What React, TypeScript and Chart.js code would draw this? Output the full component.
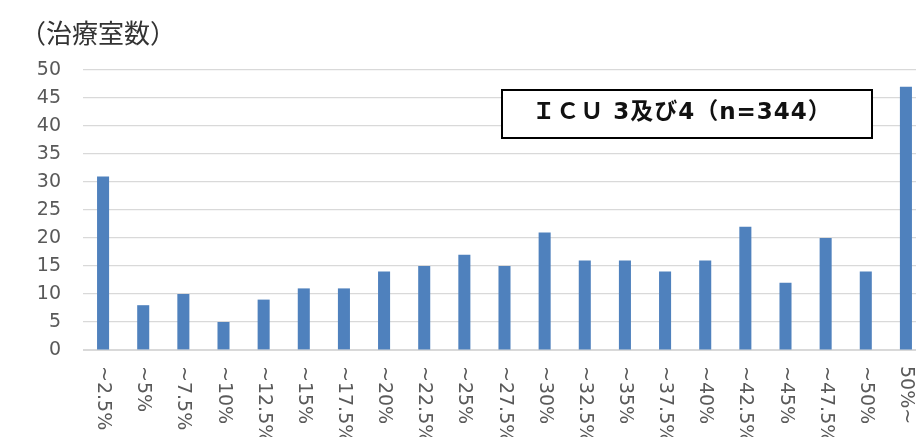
import React, { useEffect, useRef } from "react";
import { Chart, registerables } from "chart.js";

Chart.register(...registerables);

const categories = [
  "~2.5%", "~5%", "~7.5%", "~10%", "~12.5%", "~15%", "~17.5%", "~20%",
  "~22.5%", "~25%", "~27.5%", "~30%", "~32.5%", "~35%", "~37.5%", "~40%",
  "~42.5%", "~45%", "~47.5%", "~50%", "50%~",
];
const counts = [31, 8, 10, 5, 9, 11, 11, 14, 15, 17, 15, 21, 16, 16, 14, 16, 22, 12, 20, 14, 47];
const yMin = 0;
const yMax = 50;
const yStep = 5;
const yAxisTitle = "（治療室数）";
const boxLabel = "ＩＣＵ 3及び4（n=344）";

const LATIN = '"DejaVu Sans", "Noto Sans CJK JP", sans-serif';
const CJK = '"Noto Sans CJK JP", "Noto Sans", sans-serif';
const MIXED = '"DejaVu Sans", "Noto Sans CJK JP", sans-serif';

export default function App() {
  const ref = useRef<HTMLCanvasElement | null>(null);

  useEffect(() => {
    const canvas = ref.current;
    if (!canvas) return;

    const overlay = {
      id: "overlay",
      afterDraw(chart: any) {
        const ctx = chart.ctx;
        const xs = chart.scales.x;
        ctx.save();
        // rotated category labels (reading top to bottom)
        ctx.font = `19px ${LATIN}`;
        ctx.fillStyle = "#595959";
        categories.forEach((c, i) => {
          const x = xs.getPixelForValue(i);
          ctx.save();
          ctx.translate(x, xs.top + 16);
          ctx.rotate(Math.PI / 2);
          ctx.textAlign = "left";
          ctx.textBaseline = "middle";
          ctx.fillText(c, 0, 0);
          ctx.restore();
        });
        // axis title
        ctx.font = `26px ${CJK}`;
        ctx.fillStyle = "#333333";
        ctx.textAlign = "left";
        ctx.textBaseline = "middle";
        ctx.fillText(yAxisTitle, 20, 33);
        // annotation box
        ctx.fillStyle = "#ffffff";
        ctx.fillRect(502, 90, 370, 48);
        ctx.strokeStyle = "#000000";
        ctx.lineWidth = 2;
        ctx.strokeRect(502, 90, 370, 48);
        ctx.font = `bold 23px ${MIXED}`;
        (ctx as any).letterSpacing = "1px";
        ctx.fillStyle = "#111111";
        ctx.textAlign = "center";
        ctx.textBaseline = "middle";
        ctx.fillText(boxLabel, 682, 113);
        (ctx as any).letterSpacing = "0px";
        ctx.restore();
      },
    };

    const chart = new Chart(canvas, {
      type: "bar",
      data: {
        labels: categories,
        datasets: [
          {
            data: counts,
            backgroundColor: "#4F81BD",
            borderWidth: 0,
            barPercentage: 0.3,
            categoryPercentage: 1,
          },
        ],
      },
      options: {
        responsive: false,
        animation: false,
        layout: { padding: { top: 70, left: 0, right: 0, bottom: 0 } },
        plugins: {
          legend: { display: false },
          tooltip: { enabled: false },
        },
        scales: {
          x: {
            grid: { display: false },
            border: { color: "#d9d9d9", width: 1 },
            ticks: { display: false },
            afterFit(scale: any) {
              scale.height = 87;
            },
          },
          y: {
            min: yMin,
            max: yMax,
            ticks: {
              stepSize: yStep,
              color: "#595959",
              font: { family: LATIN, size: 19 },
              padding: 22,
            },
            grid: { color: "#d9d9d9", lineWidth: 1.2, drawTicks: false },
            border: { display: false },
            afterFit(scale: any) {
              scale.width = 83;
            },
          },
        },
      },
      plugins: [overlay],
    });

    return () => chart.destroy();
  }, []);

  return (
    <div
      style={{
        position: "fixed",
        left: 0,
        top: 0,
        width: 916,
        height: 437,
        overflow: "hidden",
        background: "#ffffff",
      }}
    >
      <canvas ref={ref} width={926} height={437} style={{ display: "block" }} />
    </div>
  );
}
